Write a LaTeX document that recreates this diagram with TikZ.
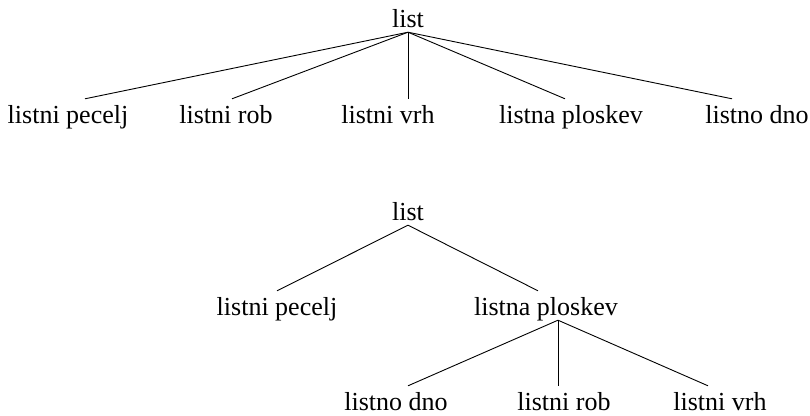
\documentclass[tikz,border=0pt]{standalone}
\usepackage{fontspec}
\setmainfont{Liberation Serif}
\tikzset{
  word/.style={inner sep=0pt, text height=24pt, text depth=5pt, anchor=base,
    font=\fontsize{26}{30}\selectfont},
  branch/.style={line width=0.9pt},
}
\begin{document}
\begin{tikzpicture}[x=1pt,y=-1pt]
          \useasboundingbox (0,0) rectangle (810,415);
          % first tree
            \node[word] (list1) at (408,27) {list};
            \node[word] (pecelj1) at (68,123) {listni pecelj};
            \node[word] (rob1) at (226,123) {listni rob};
            \node[word] (vrh1) at (388,123) {listni vrh};
            \node[word] (ploskev1) at (571,123) {listna ploskev};
            \node[word] (dno1) at (757,123) {listno dno};
            \foreach \x/\s in {pecelj1/17, rob1/6, ploskev1/-6, dno1/-25} {
              \draw[branch] (list1.south) -- ([xshift=\s pt]\x.north);
            }
            \draw[branch] (list1.south) -- (list1.south |- vrh1.north);
          % second tree
            \node[word] (list2) at (408,220) {list};
            \node[word] (pecelj2) at (277,315) {listni pecelj};
            \node[word] (ploskev2) at (546,315) {listna ploskev};
            \foreach \x/\s in {pecelj2/0, ploskev2/-8} {
              \draw[branch] (list2.south) -- ([xshift=\s pt]\x.north);
            }
          % leaves under the second tree
            \coordinate (fork) at ([xshift=12pt]ploskev2.south);
            \node[word] (dno2) at (396,410) {listno dno};
            \node[word] (rob2) at (564,410) {listni rob};
            \node[word] (vrh2) at (720,410) {listni vrh};
            \foreach \x/\s in {dno2/12, vrh2/-12} {
              \draw[branch] (fork) -- ([xshift=\s pt]\x.north);
            }
            \draw[branch] (fork) -- (fork |- rob2.north);
          \end{tikzpicture}
\end{document}
